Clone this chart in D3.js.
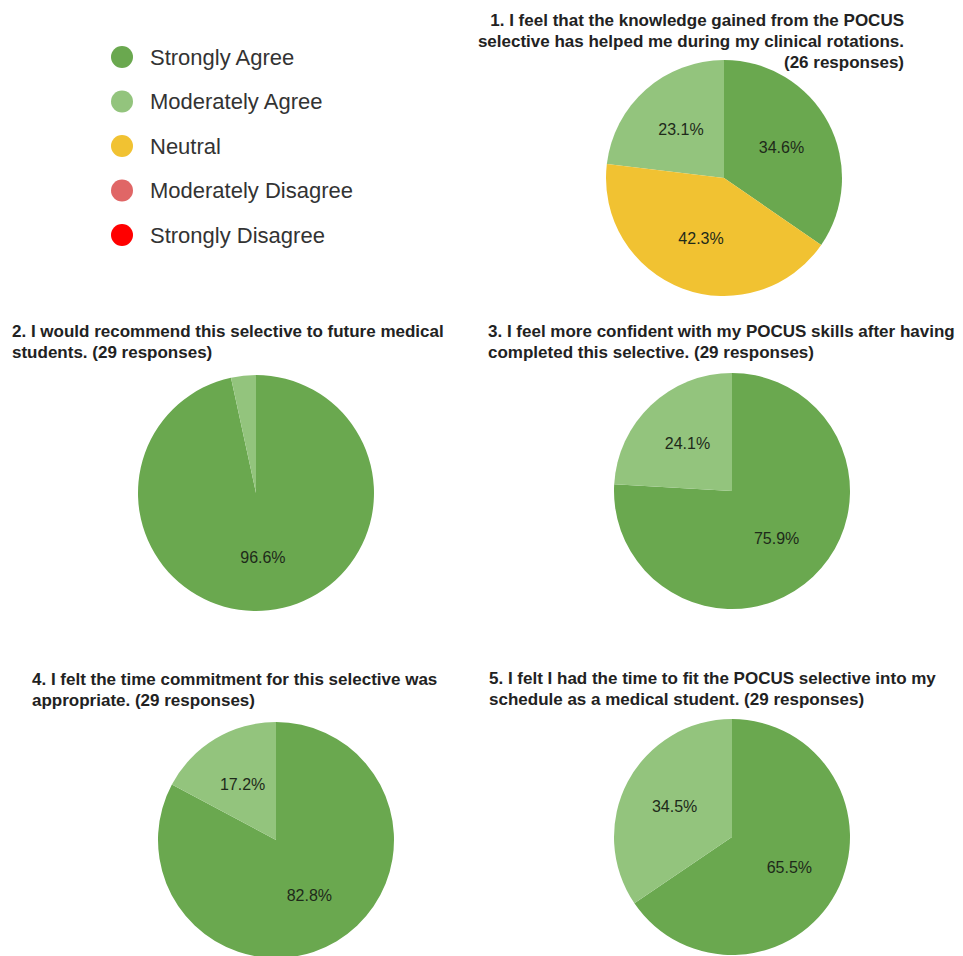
<!DOCTYPE html>
<html>
<head>
<meta charset="utf-8">
<script src="https://cdn.jsdelivr.net/npm/d3@7"></script>
<style>
  body { margin: 0; background: #fff; }
  svg { display: block; font-family: "Liberation Sans", Arial, sans-serif; }
</style>
</head>
<body>
<div id="chart"></div>
<script>
// answer options, in legend order
var categories = ["Strongly Agree", "Moderately Agree", "Neutral", "Moderately Disagree", "Strongly Disagree"];
var colors = ["#6aa84f", "#93c47d", "#f1c232", "#e06666", "#ff0000"];
// order the slices go round the pie, clockwise from 12 o'clock
var sliceOrder = [0, 2, 1, 3, 4];

// question titles, as they wrap in the picture
var titles = [
  ["1. I feel that the knowledge gained from the POCUS", "selective has helped me during my clinical rotations.", "(26 responses)"],
  ["2. I would recommend this selective to future medical", "students. (29 responses)"],
  ["3. I feel more confident with my POCUS skills after having", "completed this selective. (29 responses)"],
  ["4. I felt the time commitment for this selective was", "appropriate. (29 responses)"],
  ["5. I felt I had the time to fit the POCUS selective into my", "schedule as a medical student. (29 responses)"]
];

// percent of responses per question
var stronglyAgree = [34.6, 96.6, 75.9, 82.8, 65.5];
var moderatelyAgree = [23.1, 3.4, 24.1, 17.2, 34.5];
var neutral = [42.3, 0, 0, 0, 0];
var moderatelyDisagree = [0, 0, 0, 0, 0];
var stronglyDisagree = [0, 0, 0, 0, 0];

var W = 963, H = 956;
var svg = d3.select("#chart").append("svg")
    .attr("width", W)
    .attr("height", H);

// legend
var legendY = d3.scalePoint().domain(categories).range([57, 235]);
var legend = svg.append("g").attr("class", "legend");
var item = legend.selectAll("g").data(categories).enter().append("g")
    .attr("transform", function(d) { return "translate(122," + legendY(d) + ")"; });
item.append("circle")
    .attr("r", 11)
    .attr("fill", function(d, i) { return colors[i]; });
item.append("text")
    .attr("x", 28)
    .attr("y", 7.5)
    .attr("font-size", 22)
    .attr("fill", "#333")
    .text(function(d) { return d; });

// where each small chart sits
var panels = [
  { cx: 724, cy: 178, tx: 904, ty: 26, anchor: "end" },
  { cx: 256, cy: 493, tx: 12, ty: 337, anchor: "start" },
  { cx: 732, cy: 491, tx: 488, ty: 337, anchor: "start" },
  { cx: 276, cy: 840, tx: 32, ty: 685, anchor: "start" },
  { cx: 732, cy: 837, tx: 489, ty: 684, anchor: "start" }
];
var radius = 118;

var series = [stronglyAgree, moderatelyAgree, neutral, moderatelyDisagree, stronglyDisagree];

var pie = d3.pie()
    .value(function(d) { return d.value; })
    .sort(function(a, b) { return sliceOrder.indexOf(a.cat) - sliceOrder.indexOf(b.cat); });
var arc = d3.arc().innerRadius(0).outerRadius(radius);
var labelArc = d3.arc().innerRadius(radius * 0.55).outerRadius(radius * 0.55);

panels.forEach(function(p, q) {
  var g = svg.append("g");

  g.append("text")
      .attr("text-anchor", p.anchor)
      .attr("font-size", 17)
      .attr("font-weight", "bold")
      .attr("fill", "#222")
      .selectAll("tspan").data(titles[q]).enter().append("tspan")
      .attr("x", p.tx)
      .attr("y", function(d, i) { return p.ty + i * 21; })
      .text(function(d) { return d; });

  var rows = series.map(function(s, c) { return { cat: c, value: s[q] }; })
      .filter(function(d) { return d.value > 0; });
  var arcs = pie(rows);

  var pg = g.append("g").attr("transform", "translate(" + p.cx + "," + p.cy + ")");
  pg.selectAll("path").data(arcs).enter().append("path")
      .attr("d", arc)
      .attr("fill", function(d) { return colors[d.data.cat]; });

  pg.selectAll("text").data(arcs.filter(function(d) { return d.data.value >= 5; }))
    .enter().append("text")
      .attr("transform", function(d) { return "translate(" + labelArc.centroid(d) + ")"; })
      .attr("text-anchor", "middle")
      .attr("dy", "0.35em")
      .attr("font-size", 16)
      .attr("fill", "#1e2a1a")
      .text(function(d) { return d.data.value.toFixed(1) + "%"; });
});
</script>
</body>
</html>
